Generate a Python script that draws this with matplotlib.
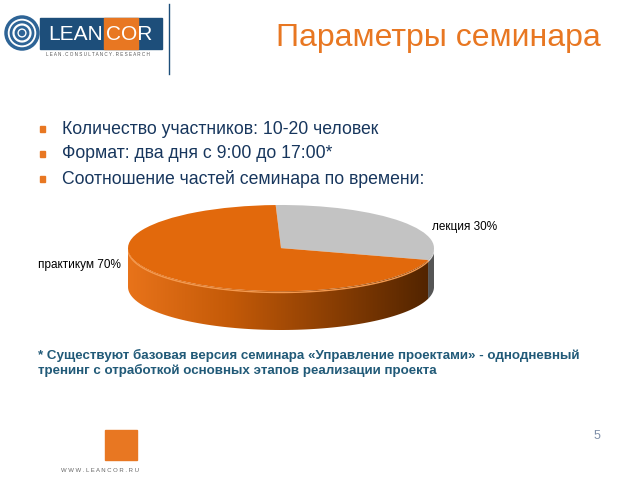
import numpy as np
import matplotlib
matplotlib.use("Agg")
import matplotlib.pyplot as plt
from matplotlib.patches import Rectangle, Polygon, Circle
from matplotlib.colors import LinearSegmentedColormap

plt.rcParams['font.family'] = ['Liberation Sans', 'DejaVu Sans']

# data
parts = ["лекция", "практикум"]
shares = [30, 70]
part_colors = ["#C3C3C3", "#E2690C"]

title = "Параметры семинара"
bullets = [
    "Количество участников: 10-20 человек",
    "Формат: два дня с 9:00 до 17:00*",
    "Соотношение частей семинара по времени:",
]
footnote = ("* Существуют базовая версия семинара «Управление проектами» - однодневный\n"
            "тренинг с отработкой основных этапов реализации проекта")

orange = "#E87722"
text_blue = "#17365D"
note_blue = "#215A78"

fig = plt.figure(figsize=(6.4, 4.8), dpi=100)
fig.patch.set_facecolor("white")

# slide layer in pixel coords
bg = fig.add_axes([0, 0, 1, 1])
bg.set_xlim(0, 640)
bg.set_ylim(480, 0)
bg.axis("off")

# logo
bg.add_patch(Rectangle((40, 18), 122, 31, color="#1D4E7A"))
bg.add_patch(Rectangle((104, 18), 34, 31, color=orange))
bg.text(48, 34, "LEAN", color="white", fontsize=15, va="center", ha="left")
bg.text(106, 34, "COR", color="white", fontsize=15, va="center", ha="left")
for r, lw in [(16, 2.5), (11, 2), (6, 2)]:
    bg.add_patch(Circle((22, 33), r, fill=False, ec="#2E6496", lw=lw))
bg.add_patch(Circle((22, 33), 2.5, color="#2E6496"))
bg.text(98, 54, "L E A N . C O N S U L T A N C Y . R E S E A R C H", color="#555555",
        fontsize=3.3, ha="center", va="center")
bg.plot([169, 169], [4, 74], color="#1D4E7A", lw=1)

# title
bg.text(601, 38, title, color=orange, fontsize=23, ha="right", va="center")

# bullets
for i, b in enumerate(bullets):
    y = 129 + i * 25
    bg.add_patch(Rectangle((40, y - 3), 5, 6, color=orange))
    bg.text(62, y, b, color=text_blue, fontsize=12.7, ha="left", va="center")

# footnote
bg.text(38, 363, footnote, color=note_blue, fontsize=9.6, fontweight="bold",
        ha="left", va="center", linespacing=1.25)

# footer
bg.add_patch(Rectangle((105, 430), 32, 30, color=orange))
bg.text(100, 471, "W W W . L E A N C O R . R U", color="#666666", fontsize=4.3,
        ha="center", va="center")
bg.text(597, 436, "5", color="#7F8FA8", fontsize=9, ha="center", va="center")

# 3d-ish pie: top face ellipse (128..434 x 205..291), side depth below
depth = 0.9
ax = fig.add_axes([128 / 640, (480 - 330) / 480, 306 / 640, 125 / 480])
wedges, _ = ax.pie(shares, colors=part_colors, startangle=92, counterclock=False,
                   radius=1, wedgeprops=dict(linewidth=0, zorder=3))
ax.set_aspect("auto")
ax.axis("off")

# side band, coloured per slice with left-to-right shading
side_cmaps = {
    "#E2690C": LinearSegmentedColormap.from_list("o", ["#E8731A", "#C45A08", "#8A3E03", "#4F2300"]),
    "#C3C3C3": LinearSegmentedColormap.from_list("g", ["#B0B0B0", "#8C8C8C", "#6A6A6A", "#555555"]),
}
grad = np.linspace(0, 1, 256).reshape(1, -1)
for w, c in zip(wedges, part_colors):
    a1, a2 = sorted([w.theta1, w.theta2])
    # visible front part is angles in (180, 360)
    for shift in (0, 360, -360):
        lo = max(a1 + shift, 180)
        hi = min(a2 + shift, 360)
        if hi <= lo:
            continue
        t = np.radians(np.linspace(lo, hi, 100))
        xs = np.cos(t)
        top = np.sin(t)
        pts = np.concatenate([np.column_stack([xs, top]),
                              np.column_stack([xs[::-1], top[::-1] - depth])])
        poly = Polygon(pts, closed=True, facecolor="none", edgecolor="none")
        ax.add_patch(poly)
        im = ax.imshow(grad, cmap=side_cmaps[c], extent=[-1, 1, -1 - depth, 0],
                       aspect="auto", zorder=1)
        im.set_clip_path(poly)
        ax.plot(xs, top - 0.03, color="#F49A50" if c == "#E2690C" else "#D8D8D8",
                lw=1, zorder=2)
ax.set_xlim(-1, 1)
ax.set_ylim(-1 - depth, 1)

# labels
bg.text(432, 227, f"{parts[0]} {shares[0]}%", fontsize=8.5, ha="left", va="center", color="black")
bg.text(38, 265, f"{parts[1]} {shares[1]}%", fontsize=8.5, ha="left", va="center", color="black")

fig.savefig("out.png", dpi=100)
